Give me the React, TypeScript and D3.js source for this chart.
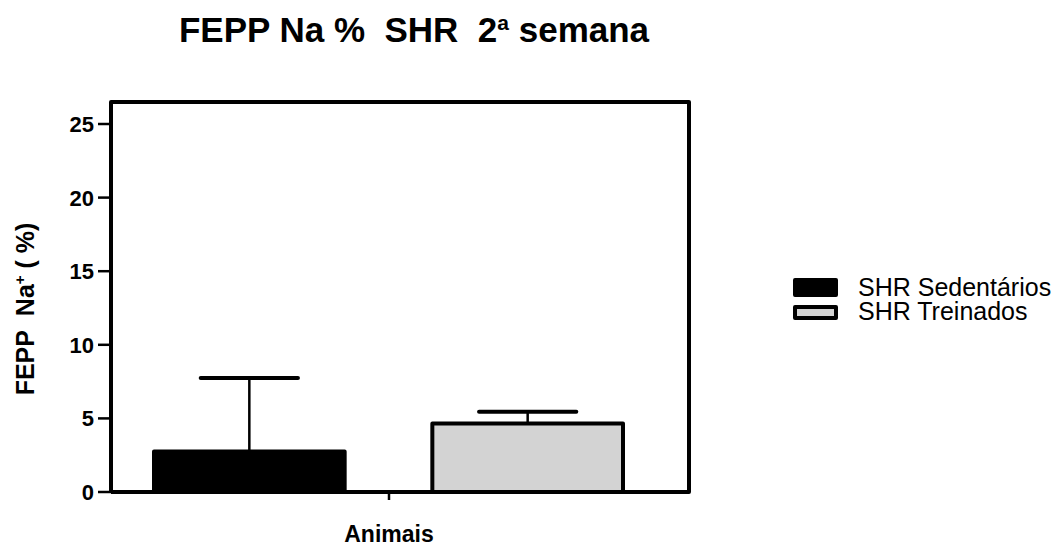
import React from "react";
import * as d3 from "d3";

const categories = ["Animais"];
const seriesNames = ["SHR Sedentários", "SHR Treinados"];
const means = [2.75, 4.65];
const errors = [5.0, 0.8];
const fills = ["#000000", "#d3d3d3"];
const yTicks = [0, 5, 10, 15, 20, 25];

export default function App() {
  const W = 1061, H = 548;
  const left = 111, right = 689, top = 102, bottom = 492;
  const y = d3.scaleLinear().domain([0, 25]).range([bottom, 124]);
  const x = d3.scaleBand().domain(categories).range([left, right]).paddingOuter(0);
  const inner = d3.scaleBand().domain(seriesNames).range([154, 623]).paddingInner(0.315);
  const font = "Liberation Sans, Arial, sans-serif";
  const cx = (x("Animais") as number) + x.bandwidth() / 2 - 11;
  return (
    <svg width={W} height={H} style={{ position: "absolute", left: 0, top: 0 }} fontFamily={font}>
      <text x={414} y={42} textAnchor="middle" fontSize={35} fontWeight="bold">
        FEPP Na %{"\u00a0\u00a0"}SHR{"\u00a0\u00a0"}2<tspan dy={-12} fontSize={21}>a</tspan>
        <tspan dy={12}> semana</tspan>
      </text>
      {seriesNames.map((s, i) => {
        const bx = inner(s) as number;
        const bw = inner.bandwidth();
        const mid = bx + bw / 2;
        const capW = bw * 0.51;
        return (
          <g key={s}>
            <line x1={mid} x2={mid} y1={y(means[i])} y2={y(means[i] + errors[i])} stroke="#000" strokeWidth={2.5} />
            <line x1={mid - capW / 2} x2={mid + capW / 2} y1={y(means[i] + errors[i])} y2={y(means[i] + errors[i])} stroke="#000" strokeWidth={4} strokeLinecap="round" />
            <rect x={bx} y={y(means[i])} width={bw} height={bottom - y(means[i])} fill={fills[i]} stroke="#000" strokeWidth={4} strokeLinejoin="round" />
          </g>
        );
      })}
      <path d={`M${left},${bottom} V${top} H${right} V${bottom} H${left}`} fill="none" stroke="#000" strokeWidth={4} strokeLinejoin="round" />
      <line x1={cx} x2={cx} y1={bottom} y2={bottom + 8} stroke="#000" strokeWidth={2.5} />
      {yTicks.map((t) => (
        <g key={t}>
          <line x1={left - 13} x2={left} y1={y(t)} y2={y(t)} stroke="#000" strokeWidth={2.5} />
          <text x={94} y={y(t) + 8} textAnchor="end" fontSize={22} fontWeight="bold">{t}</text>
        </g>
      ))}
      <text x={cx} y={542} textAnchor="middle" fontSize={23} fontWeight="bold">{categories[0]}</text>
      <text transform={`translate(34,309) rotate(-90)`} textAnchor="middle" fontSize={25} fontWeight="bold">
        FEPP{"\u00a0\u00a0"}Na<tspan dy={-9} fontSize={15}>+</tspan><tspan dy={9}> ( %)</tspan>
      </text>
      {seriesNames.map((s, i) => (
        <g key={s}>
          <rect x={795} y={i === 0 ? 280 : 307} width={41} height={i === 0 ? 15 : 11} fill={fills[i]} stroke="#000" strokeWidth={4} strokeLinejoin="round" />
          <text x={858} y={296 + i * 24} fontSize={25}>{s}</text>
        </g>
      ))}
    </svg>
  );
}
